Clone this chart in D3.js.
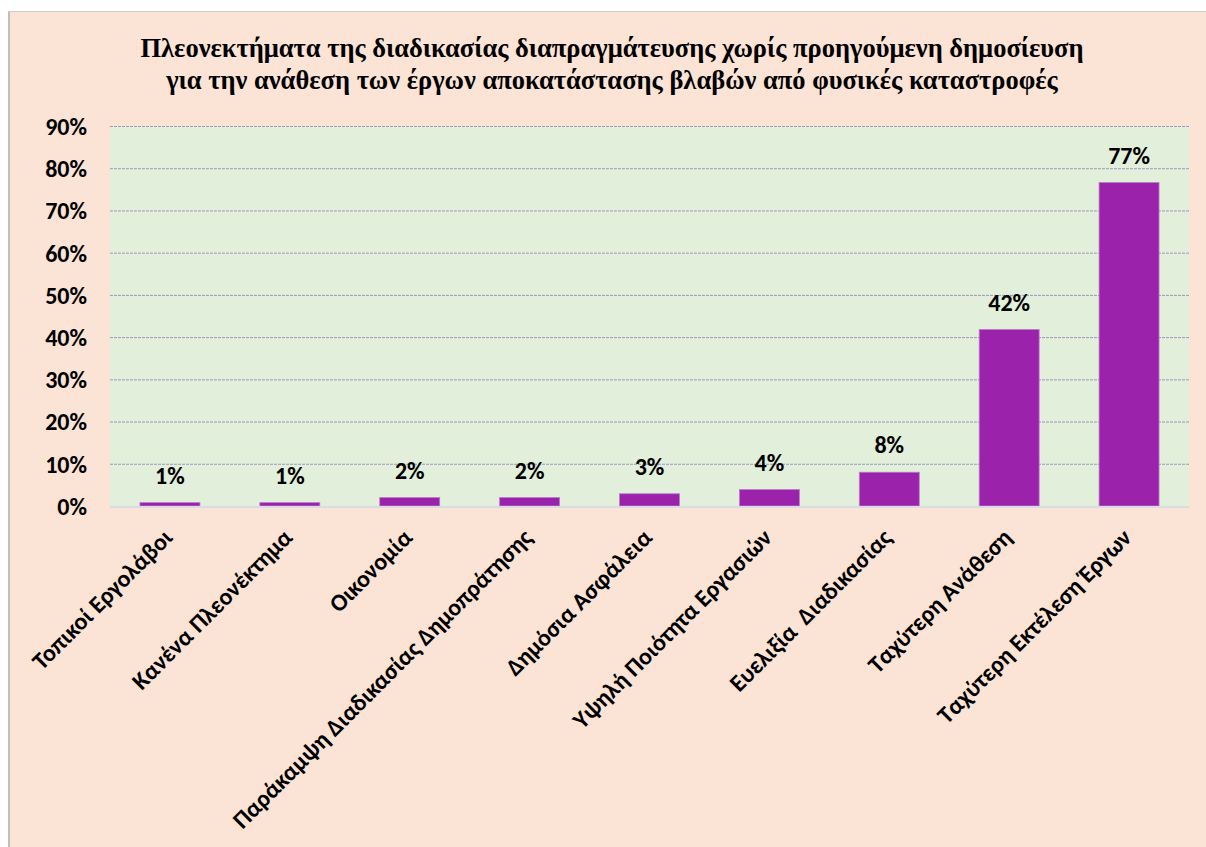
<!DOCTYPE html>
<html>
<head>
<meta charset="utf-8">
<script src="https://cdn.jsdelivr.net/npm/d3@7"></script>
<style>
  body { margin: 0; background: #fff; }
  svg { display: block; }
</style>
</head>
<body>
<svg id="chart"></svg>
<script>
var width = 1206, height = 847;

// data
var categories = ["Τοπικοί Εργολάβοι", "Κανένα Πλεονέκτημα", "Οικονομία",
  "Παράκαμψη Διαδικασίας Δημοπράτησης", "Δημόσια Ασφάλεια", "Υψηλή Ποιότητα Εργασιών",
  "Ευελιξία  Διαδικασίας", "Ταχύτερη Ανάθεση", "Ταχύτερη Εκτέλεση Έργων"];
var values = [0.008, 0.008, 0.02, 0.02, 0.029, 0.039, 0.08, 0.418, 0.766];
var valueLabels = ["1%", "1%", "2%", "2%", "3%", "4%", "8%", "42%", "77%"];
var yTicks = [0, 0.1, 0.2, 0.3, 0.4, 0.5, 0.6, 0.7, 0.8, 0.9];
var titleLines = ["Πλεονεκτήματα της διαδικασίας διαπραγμάτευσης χωρίς προηγούμενη δημοσίευση",
  "για την ανάθεση των έργων αποκατάστασης βλαβών από φυσικές καταστροφές"];

var plot = { left: 110, right: 1189, top: 126, bottom: 506 };
var sans = "Calibri, Carlito, 'Open Sans', 'Noto Sans', sans-serif";

var svg = d3.select("#chart").attr("width", width).attr("height", height);

// Chart background with grey frame on top/left
svg.append("rect").attr("x", 8).attr("y", 11).attr("width", width - 8).attr("height", height - 11)
  .attr("fill", "#FBE4D6");
svg.append("line").attr("x1", 9).attr("y1", 11).attr("x2", 9).attr("y2", height)
  .style("stroke", "#BFBFBF").style("stroke-width", 2);
svg.append("line").attr("x1", 8).attr("y1", 11.5).attr("x2", width).attr("y2", 11.5)
  .style("stroke", "#D0CCCA").style("stroke-width", 1);

// Plot area
svg.append("rect").attr("x", plot.left).attr("y", plot.top)
  .attr("width", plot.right - plot.left).attr("height", plot.bottom - plot.top)
  .attr("fill", "#E2EFDA");

var x = d3.scaleBand().domain(categories).range([plot.left, plot.right]).paddingInner(0.5).paddingOuter(0.25);
var y = d3.scaleLinear().domain([0, 0.9]).range([plot.bottom, plot.top]);

// Gridlines
svg.append("g").selectAll("line").data(yTicks.filter(function(d) { return d > 0; })).enter().append("line")
  .attr("x1", plot.left).attr("x2", plot.right)
  .attr("y1", function(d) { return y(d) + 0.5; }).attr("y2", function(d) { return y(d) + 0.5; })
  .style("stroke", "#A393C2").style("stroke-width", 1).style("stroke-dasharray", "3,1");

// y axis
var yAxis = svg.append("g").attr("transform", "translate(" + (plot.left - 23) + ",0)")
  .call(d3.axisLeft(y).tickValues(yTicks).tickFormat(d3.format(".0%")).tickSize(0).tickPadding(0));
yAxis.select(".domain").remove();
yAxis.selectAll("text").attr("dy", "0.35em")
  .style("font-family", sans).style("font-weight", "bold").style("font-size", "24px").attr("fill", "#000");

// Bars
svg.append("g").selectAll("rect").data(values).enter().append("rect")
  .attr("x", function(d, i) { return x(categories[i]); })
  .attr("y", function(d) { return y(d); })
  .attr("width", x.bandwidth())
  .attr("height", function(d) { return plot.bottom - y(d); })
  .attr("fill", "#9B23AB").style("stroke", "#B97BC8").style("stroke-width", 0.8);

// x axis baseline
svg.append("line").attr("x1", plot.left).attr("x2", plot.right)
  .attr("y1", plot.bottom + 1).attr("y2", plot.bottom + 1)
  .style("stroke", "#D9DCE6").style("stroke-width", 2);

// Value labels
svg.append("g").selectAll("text").data(values).enter().append("text")
  .attr("x", function(d, i) { return x(categories[i]) + x.bandwidth() / 2; })
  .attr("y", function(d) { return y(d) - 19; })
  .attr("text-anchor", "middle")
  .style("font-family", sans).style("font-weight", "bold").style("font-size", "24px")
  .text(function(d, i) { return valueLabels[i]; });

// Category labels
svg.append("g").selectAll("text").data(categories).enter().append("text")
  .attr("transform", function(d) {
    return "translate(" + (x(d) + x.bandwidth() / 2 + 4) + "," + (plot.bottom + 33) + ") rotate(-45)";
  })
  .attr("text-anchor", "end")
  .style("font-family", sans).style("font-weight", "bold").style("font-size", "24px")
  .style("white-space", "pre")
  .text(function(d) { return d; });

// Title
svg.append("g").selectAll("text").data(titleLines).enter().append("text")
  .attr("x", 612).attr("y", function(d, i) { return 57 + i * 32; })
  .attr("text-anchor", "middle")
  .style("font-family", "'Liberation Serif', 'Times New Roman', serif")
  .style("font-weight", "bold").style("font-size", "26.5px")
  .text(function(d) { return d; });
</script>
</body>
</html>
